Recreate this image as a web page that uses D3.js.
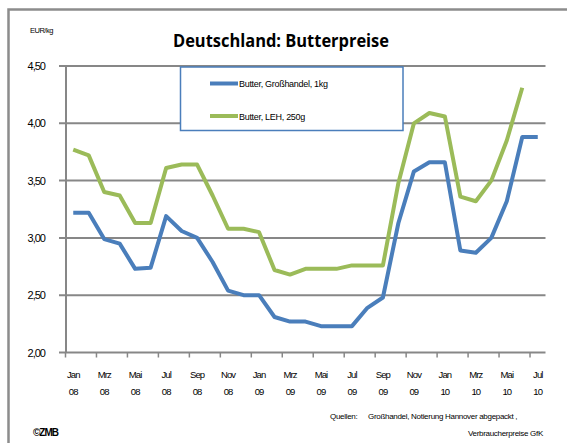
<!DOCTYPE html>
<html>
<head>
<meta charset="utf-8">
<script src="https://cdn.jsdelivr.net/npm/d3@7"></script>
<style>
  body { margin: 0; background: #fff; }
  svg { display: block; font-family: "Liberation Sans", Arial, sans-serif; }
</style>
</head>
<body>
<div id="chart"></div>
<script>
const w = 567;
const h = 443;

// categories: Jan 08 .. Jul 10
const months = ["Jan", "Feb", "Mrz", "Apr", "Mai", "Jun", "Jul", "Aug", "Sep", "Okt", "Nov", "Dez",
                "Jan", "Feb", "Mrz", "Apr", "Mai", "Jun", "Jul", "Aug", "Sep", "Okt", "Nov", "Dez",
                "Jan", "Feb", "Mrz", "Apr", "Mai", "Jun", "Jul"];
const years = ["08", "08", "08", "08", "08", "08", "08", "08", "08", "08", "08", "08",
               "09", "09", "09", "09", "09", "09", "09", "09", "09", "09", "09", "09",
               "10", "10", "10", "10", "10", "10", "10"];

const grosshandel = [3.22, 3.22, 2.99, 2.95, 2.73, 2.74, 3.19, 3.06, 3.00, 2.79, 2.54, 2.50,
                     2.50, 2.31, 2.27, 2.27, 2.23, 2.23, 2.23, 2.39, 2.48, 3.13, 3.58, 3.66,
                     3.66, 2.89, 2.87, 3.00, 3.32, 3.88, 3.88];
const leh = [3.77, 3.72, 3.40, 3.37, 3.13, 3.13, 3.61, 3.64, 3.64, 3.37, 3.08, 3.08,
             3.05, 2.72, 2.68, 2.73, 2.73, 2.73, 2.76, 2.76, 2.76, 3.48, 4.00, 4.09,
             4.06, 3.36, 3.32, 3.50, 3.85, 4.31, null];

const yTicks = [2.0, 2.5, 3.0, 3.5, 4.0, 4.5];

const seriesNames = ["Butter, Großhandel, 1kg", "Butter, LEH, 250g"];
const seriesColors = ["#4a7ebb", "#9bbb59"];

const svg = d3.select('#chart')
    .append('svg')
    .attr('width', w)
    .attr('height', h);

// outer frame
svg.append('rect')
    .attr('x', 8.5).attr('y', 9.5)
    .attr('width', 600).attr('height', 500)
    .attr('fill', 'none')
    .attr('stroke', '#8c8c8c')
    .attr('stroke-width', 2.5);

const idx = d3.range(months.length);

const xScale = d3.scaleBand()
    .domain(idx)
    .range([65.5, 545.5])
    .padding(0);

const yScale = d3.scaleLinear()
    .domain([2, 4.5])
    .range([352.5, 66]);

const cx = i => xScale(i) + xScale.bandwidth() / 2;

// gridlines
svg.append('g')
    .selectAll('line')
    .data(yTicks)
    .enter()
    .append('line')
    .attr('x1', 59)
    .attr('x2', 545.5)
    .attr('y1', d => yScale(d))
    .attr('y2', d => yScale(d))
    .attr('stroke', '#878787')
    .attr('stroke-width', 2);

// y labels
svg.append('g')
    .selectAll('text')
    .data(yTicks)
    .enter()
    .append('text')
    .attr('x', 45)
    .attr('y', d => yScale(d) + 4)
    .attr('text-anchor', 'end')
    .style('font-size', '11px')
    .style('letter-spacing', '-1px')
    .text(d => d3.format('.2f')(d).replace('.', ','));

// y axis line
svg.append('line')
    .attr('x1', 66).attr('x2', 66)
    .attr('y1', yScale(4.5)).attr('y2', yScale(2))
    .attr('stroke', '#878787')
    .attr('stroke-width', 2);

// x tick marks every 2 categories
const tickIdx = idx.filter(i => i % 2 === 0);
svg.append('g')
    .selectAll('line')
    .data(tickIdx)
    .enter()
    .append('line')
    .attr('x1', d => xScale(d))
    .attr('x2', d => xScale(d))
    .attr('y1', yScale(2))
    .attr('y2', yScale(2) + 5)
    .attr('stroke', '#878787')
    .attr('stroke-width', 1.5);

// x labels
const xl = svg.append('g')
    .selectAll('g')
    .data(tickIdx)
    .enter()
    .append('g')
    .style('font-size', '9.5px')
    .style('letter-spacing', '-0.9px')
    .attr('text-anchor', 'middle');
xl.append('text')
    .attr('x', d => cx(d))
    .attr('y', 378)
    .text(d => months[d]);
xl.append('text')
    .attr('x', d => cx(d))
    .attr('y', 395)
    .text(d => years[d]);

// lines
const line = d3.line()
    .defined(d => d != null)
    .x((d, i) => cx(i))
    .y(d => yScale(d));

[grosshandel, leh].forEach((s, k) => {
    svg.append('path')
        .datum(s)
        .attr('fill', 'none')
        .attr('stroke', seriesColors[k])
        .attr('stroke-width', 4)
        .attr('stroke-linejoin', 'round')
        .attr('d', line);
});

// legend
svg.append('rect')
    .attr('x', 180.5).attr('y', 67)
    .attr('width', 222.5).attr('height', 63.5)
    .attr('fill', '#fff')
    .attr('stroke', '#4a7ebb')
    .attr('stroke-width', 1.5);

const leg = svg.append('g')
    .selectAll('g')
    .data(seriesNames)
    .enter()
    .append('g')
    .attr('transform', (d, i) => 'translate(0,' + (83.5 + i * 32.5) + ')');
leg.append('line')
    .attr('x1', 210).attr('x2', 238)
    .attr('stroke', (d, i) => seriesColors[i])
    .attr('stroke-width', 4);
leg.append('text')
    .attr('x', 239)
    .attr('y', 3.5)
    .style('font-size', '9px')
    .style('letter-spacing', '-0.3px')
    .text(d => d);

// title
svg.append('text')
    .attr('x', 173)
    .attr('y', 47)
    .attr('textLength', 216)
    .attr('lengthAdjust', 'spacingAndGlyphs')
    .style('font-family', '"Open Sans", sans-serif')
    .style('font-weight', 'bold')
    .style('font-size', '18px')
    .text('Deutschland: Butterpreise');

svg.append('text')
    .attr('x', 30)
    .attr('y', 33)
    .style('font-size', '7.5px')
    .style('letter-spacing', '-0.5px')
    .text('EUR/kg');

// sources
svg.append('text')
    .attr('x', 330)
    .attr('y', 419)
    .style('font-size', '8px')
    .style('letter-spacing', '-0.3px')
    .text('Quellen:');
svg.append('text')
    .attr('x', 368)
    .attr('y', 419)
    .style('font-size', '8px')
    .style('letter-spacing', '-0.3px')
    .text('Großhandel, Notierung Hannover abgepackt ,');
svg.append('text')
    .attr('x', 543)
    .attr('y', 436)
    .attr('text-anchor', 'end')
    .style('font-size', '8px')
    .style('letter-spacing', '-0.3px')
    .text('Verbraucherpreise GfK');

svg.append('text')
    .attr('x', 33)
    .attr('y', 436)
    .style('font-size', '10px')
    .style('font-weight', 'bold')
    .style('letter-spacing', '-1px')
    .text('©ZMB');
</script>
</body>
</html>
